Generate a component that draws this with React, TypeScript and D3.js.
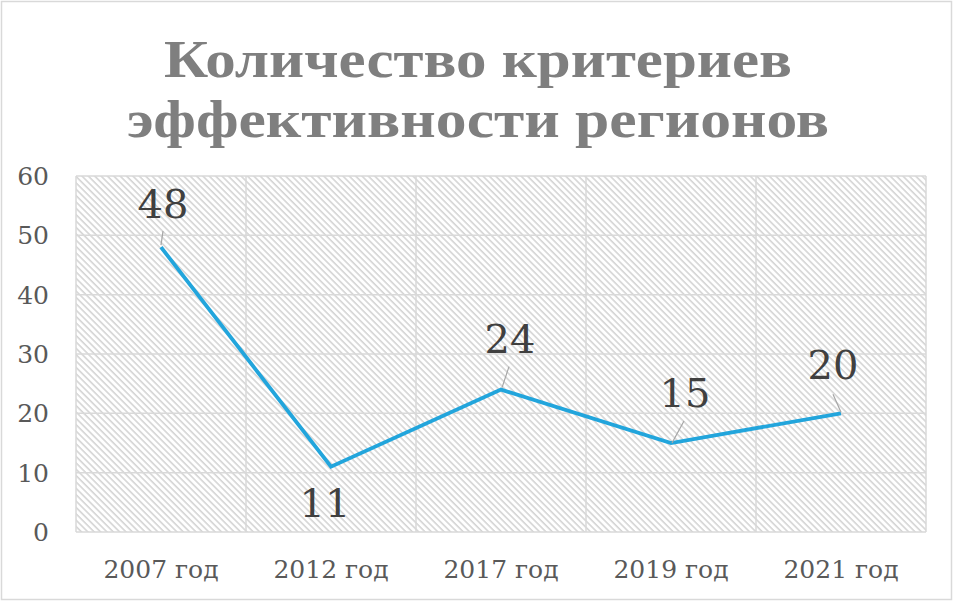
import React from "react";
import * as d3 from "d3";

const categories: string[] = ["2007 год", "2012 год", "2017 год", "2019 год", "2021 год"];
const values: number[] = [48, 11, 24, 15, 20];
const yTicks: number[] = [0, 10, 20, 30, 40, 50, 60];
const titleLines: string[] = ["Количество критериев", "эффективности регионов"];

// label placement offsets (layout only)
const labelDx = [2, -6, 9, 14, -8];
const labelDy = [-29, 50, -37, -36, -34];
const leaders: (number[] | null)[] = [
  [0, -2, 2, -16],
  null,
  [1, -2, 8, -23],
  [1, 0, 13, -22],
  [0, -1, -8, -19],
];

const W = 954;
const H = 603;
const left = 76, right = 926, top = 176, bottom = 532;

export default function App() {
  const x = d3.scaleBand<string>().domain(categories).range([left, right]).padding(0);
  const y = d3.scaleLinear().domain([0, 60]).range([bottom, top]);
  const cx = (c: string) => (x(c) as number) + x.bandwidth() / 2;
  const line = d3
    .line<number>()
    .x((_, i) => cx(categories[i]))
    .y((d) => y(d));

  const serif = "'DejaVu Serif', 'Liberation Serif', serif";

  return (
    <svg
      width={W}
      height={H}
      style={{ position: "absolute", left: 0, top: 0, background: "#fff" }}
    >
      <defs>
        <pattern
          id="hatch"
          patternUnits="userSpaceOnUse"
          width={4.5}
          height={4.5}
          patternTransform="rotate(-45)"
        >
          <rect width={4.5} height={4.5} fill="#fff" />
          <line x1={1} y1={0} x2={1} y2={4.5} stroke="#d2d2d2" strokeWidth={1.5} />
        </pattern>
      </defs>
      <rect x={1.5} y={1.5} width={950} height={598} fill="#fff" stroke="#d9d9d9" strokeWidth={1.5} />

      {titleLines.map((t, i) => (
        <text
          key={t}
          x={478}
          y={77 + i * 60}
          textAnchor="middle"
          fontFamily="'Liberation Serif', serif"
          fontWeight="bold"
          fontSize={52}
          fill="#7f7f7f"
          textLength={i === 0 ? 628 : 702}
          lengthAdjust="spacingAndGlyphs"
        >
          {t}
        </text>
      ))}

      <rect x={left} y={top} width={right - left} height={bottom - top} fill="url(#hatch)" />

      {yTicks.map((t) => (
        <line key={"h" + t} x1={left} x2={right} y1={y(t)} y2={y(t)} stroke="#d9d9d9" strokeWidth={1.5} />
      ))}
      {categories.map((c) => (
        <line
          key={"v" + c}
          x1={x(c) as number}
          x2={x(c) as number}
          y1={top}
          y2={bottom}
          stroke="#d9d9d9"
          strokeWidth={1.5}
        />
      ))}
      <line x1={right} x2={right} y1={top} y2={bottom} stroke="#d9d9d9" strokeWidth={1.5} />

      {yTicks.map((t) => (
        <text
          key={"yl" + t}
          x={49}
          y={y(t)}
          dy="0.36em"
          textAnchor="end"
          fontFamily={serif}
          fontSize={25}
          fill="#595959"
        >
          {t}
        </text>
      ))}
      {categories.map((c) => (
        <text
          key={"xl" + c}
          x={cx(c)}
          y={578}
          textAnchor="middle"
          fontFamily={serif}
          fontSize={25}
          fill="#595959"
        >
          {c}
        </text>
      ))}

      <path d={line(values) || ""} fill="none" stroke="#22a5dc" strokeWidth={3.8} strokeLinejoin="miter" />

      {values.map((v, i) => {
        const px = cx(categories[i]);
        const py = y(v);
        const l = leaders[i];
        return (
          <g key={"lab" + i}>
            {l && (
              <line
                x1={px + l[0]}
                y1={py + l[1]}
                x2={px + l[2]}
                y2={py + l[3]}
                stroke="#a6a6a6"
                strokeWidth={1.2}
              />
            )}
            <text
              x={px + labelDx[i]}
              y={py + labelDy[i]}
              textAnchor="middle"
              fontFamily={serif}
              fontSize={40}
              fill="#404040"
            >
              {v}
            </text>
          </g>
        );
      })}
    </svg>
  );
}
